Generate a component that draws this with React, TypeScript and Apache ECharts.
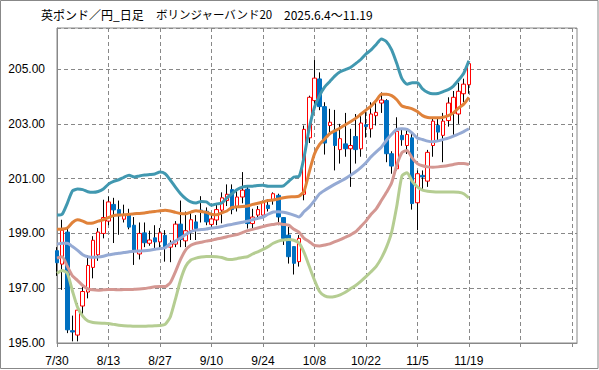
import React, { useEffect, useRef } from 'react';
import * as echarts from 'echarts';

const titleParts = ['英ポンド／円_日足', 'ボリンジャーバンド20', '2025.6.4～11.19'];
const titleX = [41, 156, 284];
const titleSize = [12, 11.5, 12];

const dates = ['7/30','7/31','8/1','8/4','8/5','8/6','8/7','8/8','8/11','8/12','8/13','8/14','8/15','8/18','8/19','8/20','8/21','8/22','8/25','8/26','8/27','8/28','8/29','9/1','9/2','9/3','9/4','9/5','9/8','9/9','9/10','9/11','9/12','9/15','9/16','9/17','9/18','9/19','9/22','9/23','9/24','9/25','9/26','9/29','9/30','10/1','10/2','10/3','10/6','10/7','10/8','10/9','10/10','10/13','10/14','10/15','10/16','10/17','10/20','10/21','10/22','10/23','10/24','10/27','10/28','10/29','10/30','10/31','11/3','11/4','11/5','11/6','11/7','11/10','11/11','11/12','11/13','11/14','11/17','11/18','11/19'];
const futureSlots = 21;

const opens = [198.37,197.88,199.05,195.45,195.29,196.35,196.86,197.76,198.22,199.0,199.45,200.06,199.87,199.52,199.72,199.3,198.25,199.02,198.64,198.84,198.69,198.93,198.5,198.61,199.34,198.73,199.1,199.42,199.85,199.81,199.33,199.49,199.85,200.2,200.6,199.97,200.33,200.62,199.36,199.67,199.67,200.03,200.21,200.39,199.58,198.94,198.52,197.97,200.43,202.49,203.85,204.64,203.63,202.94,202.78,202.06,202.27,202.09,202.54,202.09,202.97,202.82,203.3,203.76,203.85,201.91,201.36,202.58,202.21,202.49,200.12,201.12,200.91,202.21,202.94,202.58,203.12,203.39,203.36,204.1,204.43];
const closes = [197.93,199.12,195.48,195.4,196.2,196.88,197.83,198.75,199.05,199.58,200.15,199.86,199.64,199.66,199.23,198.4,199.0,198.66,198.76,198.69,199.02,198.49,198.62,199.34,198.78,199.1,199.5,199.18,199.79,199.42,199.53,199.87,200.3,200.43,199.87,200.33,200.58,199.36,199.6,199.87,200.15,199.91,200.45,199.6,198.82,198.15,197.91,198.82,202.8,203.97,204.67,203.63,202.3,203.06,202.21,202.46,202.09,202.21,202.06,203.03,202.9,203.36,203.42,203.87,201.91,201.46,202.73,202.42,202.61,200.09,201.18,201.06,201.96,203.1,202.7,203.1,203.76,203.97,204.19,204.45,205.2];
const highs = [198.5,199.5,199.2,196.0,196.45,197.1,198.2,198.9,199.2,200.23,200.35,200.3,200.2,200.05,199.9,199.6,199.4,199.4,199.1,199.3,199.2,199.12,198.75,199.45,200.2,199.8,199.8,199.67,200.36,199.95,199.75,200.05,200.5,200.79,200.79,200.6,201.24,200.7,199.9,200.0,200.2,200.25,200.5,200.45,199.6,199.24,198.52,198.94,202.94,204.03,205.33,204.88,203.79,203.55,203.51,203.0,203.4,202.82,203.36,203.3,203.5,203.79,203.85,204.15,203.9,202.0,203.24,202.8,202.75,202.7,201.3,201.3,202.05,203.2,203.18,203.4,203.97,204.2,204.5,204.65,205.3];
const lows = [197.45,196.94,195.36,195.06,195.06,196.0,196.63,197.36,198.0,198.82,199.3,198.65,198.95,199.4,199.15,197.85,198.05,198.5,198.55,198.4,198.45,197.97,197.95,198.5,198.5,198.5,198.76,198.76,199.4,199.3,199.2,199.3,199.37,200.0,199.7,199.8,200.1,199.18,199.18,199.5,199.6,199.8,200.05,199.3,198.58,197.9,197.5,197.79,200.21,202.3,203.7,203.5,201.88,202.7,201.3,201.55,201.8,200.7,201.55,201.8,202.5,202.5,202.94,203.4,201.6,201.18,201.3,202.2,201.9,199.87,199.12,200.6,200.7,201.8,202.4,201.6,202.9,202.6,203.0,203.8,204.1];

const upper2 = [199.67,199.7,200.1,200.55,200.62,200.6,200.52,200.5,200.53,200.62,200.8,200.9,200.96,201.05,201.12,201.06,201.1,201.13,201.15,201.17,201.24,201.18,200.95,200.69,200.45,200.27,200.15,200.11,200.17,200.15,200.03,200.08,200.11,200.3,200.45,200.6,200.69,200.72,200.72,200.75,200.76,200.72,200.72,200.72,200.74,200.9,201.06,201.08,201.8,202.85,203.6,204.03,204.35,204.55,204.75,204.9,204.98,205.06,205.2,205.35,205.55,205.7,205.9,206.1,206.0,205.7,205.2,204.65,204.45,204.5,204.5,204.28,204.15,204.1,204.11,204.18,204.25,204.38,204.6,204.85,205.3];
const upper1 = [199.15,199.16,199.2,199.4,199.5,199.45,199.37,199.38,199.45,199.5,199.58,199.65,199.67,199.68,199.7,199.72,199.73,199.75,199.78,199.8,199.83,199.85,199.82,199.77,199.73,199.72,199.78,199.83,199.8,199.77,199.7,199.68,199.75,199.82,199.95,199.97,199.98,200.0,200.06,200.1,200.15,200.2,200.22,200.26,200.3,200.33,200.34,200.36,200.55,201.25,201.9,202.25,202.45,202.65,202.75,202.85,202.97,203.08,203.2,203.35,203.5,203.65,203.85,204.08,204.08,204.03,203.88,203.65,203.6,203.55,203.45,203.3,203.23,203.22,203.22,203.24,203.3,203.4,203.58,203.72,203.97];
const middle = [198.61,198.64,198.64,198.52,198.38,198.22,198.15,198.13,198.14,198.17,198.22,198.25,198.28,198.3,198.33,198.35,198.36,198.37,198.39,198.42,198.45,198.47,198.62,198.72,198.83,198.96,199.07,199.12,199.14,199.16,199.2,199.22,199.25,199.3,199.33,199.37,199.41,199.45,199.5,199.55,199.6,199.7,199.78,199.79,199.77,199.73,199.67,199.6,199.8,199.97,200.2,200.45,200.58,200.69,200.8,200.9,201.0,201.12,201.25,201.4,201.58,201.8,201.98,202.15,202.4,202.62,202.8,202.82,202.8,202.66,202.48,202.43,202.37,202.35,202.38,202.43,202.48,202.55,202.63,202.72,202.82];
const lower1 = [198.1,198.15,197.8,197.45,197.28,197.1,196.98,196.94,196.93,196.94,196.95,196.95,196.94,196.95,196.95,196.96,196.97,196.99,197.02,197.05,197.06,197.06,197.2,197.6,198.05,198.4,198.57,198.64,198.68,198.72,198.75,198.8,198.83,198.88,198.92,198.96,199.03,199.1,199.15,199.2,199.25,199.3,199.33,199.36,199.33,199.3,199.15,199.05,198.82,198.7,198.56,198.54,198.58,198.62,198.7,198.77,198.86,198.95,199.06,199.25,199.45,199.7,199.9,200.2,200.5,200.85,201.5,201.95,202.03,201.75,201.55,201.47,201.43,201.42,201.43,201.45,201.48,201.52,201.55,201.55,201.52];
const lower2 = [197.55,197.65,197.55,196.9,196.3,195.98,195.8,195.75,195.73,195.72,195.71,195.68,195.65,195.63,195.62,195.61,195.61,195.61,195.62,195.63,195.64,195.68,195.95,196.6,197.3,197.8,198.03,198.1,198.14,198.16,198.16,198.15,198.12,198.06,198.05,198.08,198.12,198.15,198.25,198.33,198.42,198.52,198.64,198.72,198.76,198.78,198.75,198.65,198.3,197.8,197.3,196.88,196.72,196.68,196.7,196.76,196.85,196.98,197.1,197.25,197.42,197.6,197.8,198.1,198.5,199.05,200.0,201.1,201.22,200.9,200.7,200.58,200.54,200.52,200.51,200.51,200.51,200.51,200.5,200.45,200.3];

const yMin = 195;
const yMax = 206.5;
const yStep = 2;
const labelEvery = 10;

export default function App() {
  const ref = useRef<HTMLDivElement>(null);
  useEffect(() => {
    if (!ref.current) return;
    const chart = echarts.init(ref.current, undefined, { renderer: 'svg' });
    const categories = dates.concat(Array.from({ length: futureSlots }, (_, i) => 'f' + (i + 1)));
    const wickData = opens.map((o, i) => [o, closes[i], lows[i], highs[i]]);
    const bodyData = opens.map((o, i) => [o, closes[i], Math.min(o, closes[i]), Math.max(o, closes[i])]);
    const showIdx = (i: number) => i % labelEvery === 0;
    const lineSeries = (name: string, data: number[], color: string) => ({
      name,
      type: 'line',
      data,
      symbol: 'none',
      smooth: 0.2,
      z: 5,
      lineStyle: { color, width: 3 },
    });
    const titleTexts = titleParts.map((t, i) => ({
      type: 'text',
      left: titleX[i],
      top: 8,
      silent: true,
      style: { text: t, fontSize: titleSize[i], fill: '#000', fontFamily: '"Noto Sans CJK JP", sans-serif' },
    }));
    chart.setOption({
      animation: false,
      backgroundColor: '#fff',
      grid: { left: 57, right: 22, top: 28, bottom: 27, show: true, borderColor: '#888', borderWidth: 1, backgroundColor: 'transparent' },
      xAxis: {
        type: 'category',
        data: categories,
        boundaryGap: false,
        axisLine: { lineStyle: { color: '#888' } },
        axisTick: { show: true, length: 4, interval: showIdx, lineStyle: { color: '#888' } },
        axisLabel: {
          interval: (i: number) => showIdx(i) && i < dates.length,
          margin: 12,
          color: '#000',
          fontSize: 12,
          fontFamily: '"Liberation Sans", Arial, sans-serif',
        },
        splitLine: { show: true, interval: showIdx, lineStyle: { color: '#888', type: [4, 3], width: 1 } },
      },
      yAxis: {
        type: 'value',
        min: yMin,
        max: yMax,
        interval: yStep,
        axisLine: { show: true, lineStyle: { color: '#888' } },
        axisTick: { show: false },
        axisLabel: {
          formatter: (v: number) => v.toFixed(2),
          showMaxLabel: false,
          margin: 12,
          color: '#000',
          fontSize: 12,
          fontFamily: '"Liberation Sans", Arial, sans-serif',
        },
        splitLine: { show: true, lineStyle: { color: '#888', type: [4, 3], width: 1 } },
      },
      graphic: [
        { type: 'rect', shape: { x: 0.5, y: 0.5, width: 597.5, height: 368 }, style: { fill: 'none', stroke: '#888', lineWidth: 1 }, silent: true },
        ...titleTexts,
      ],
      series: [
        {
          name: 'wick',
          type: 'candlestick',
          data: wickData,
          barWidth: 1,
          z: 2,
          itemStyle: { color: '#000', color0: '#000', borderColor: '#000', borderColor0: '#000', borderWidth: 1 },
        },
        {
          name: 'body',
          type: 'candlestick',
          data: bodyData,
          barWidth: 4,
          z: 3,
          itemStyle: { color: '#fff', color0: '#0070C0', borderColor: '#FF0000', borderColor0: '#0070C0', borderWidth: 1 },
        },
        lineSeries('+2σ', upper2, '#4198B0'),
        lineSeries('+1σ', upper1, '#E0823A'),
        lineSeries('MA20', middle, '#95AAD4'),
        lineSeries('-1σ', lower1, '#D49792'),
        lineSeries('-2σ', lower2, '#B5CD92'),
      ],
    });
    return () => chart.dispose();
  }, []);
  return <div ref={ref} style={{ position: 'absolute', left: 0, top: 0, width: 599, height: 370, background: '#fff' }} />;
}
